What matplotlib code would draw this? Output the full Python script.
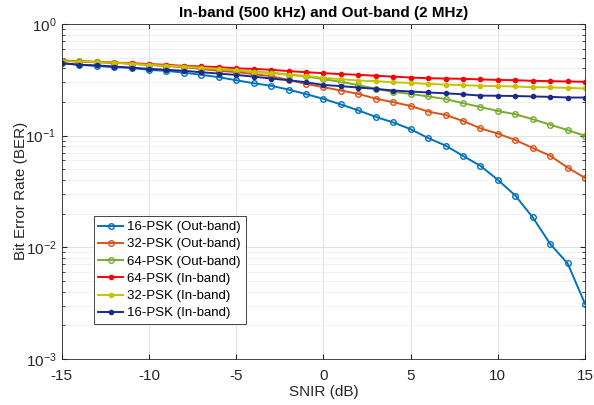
import numpy as np
import matplotlib
matplotlib.use('Agg')
from matplotlib import pyplot as plt
from matplotlib.ticker import LogLocator, NullFormatter

plt.rcParams['font.family'] = ['Liberation Sans', 'DejaVu Sans']
plt.rcParams['axes.unicode_minus'] = False

snir = np.arange(-15, 16)  # SNIR in dB, 31 points

# out-band curves (open circle markers)
ber_16psk_out = [0.445, 0.43, 0.42, 0.41, 0.404, 0.387, 0.38, 0.366, 0.35, 0.333, 0.313,
                 0.294, 0.279, 0.258, 0.235, 0.213, 0.190, 0.168, 0.147, 0.131, 0.114,
                 0.095, 0.0813, 0.0658, 0.0535, 0.0401, 0.029, 0.0185, 0.0107, 0.00715, 0.0031]
ber_32psk_out = [0.47, 0.46, 0.455, 0.45, 0.44, 0.43, 0.42, 0.41, 0.395, 0.38, 0.37,
                 0.355, 0.34, 0.315, 0.29, 0.271, 0.253, 0.236, 0.214, 0.199, 0.184,
                 0.164, 0.153, 0.135, 0.116, 0.104, 0.0912, 0.0773, 0.0659, 0.0516, 0.0417]
ber_64psk_out = [0.47, 0.462, 0.455, 0.45, 0.44, 0.43, 0.422, 0.413, 0.402, 0.392, 0.38,
                 0.372, 0.365, 0.352, 0.338, 0.32, 0.303, 0.283, 0.262, 0.246, 0.236,
                 0.224, 0.212, 0.195, 0.18, 0.166, 0.155, 0.14, 0.125, 0.112, 0.0993]
# in-band curves (dot markers)
ber_64psk_in = [0.47, 0.46, 0.457, 0.45, 0.445, 0.436, 0.43, 0.42, 0.416, 0.41, 0.40,
                0.395, 0.388, 0.378, 0.369, 0.362, 0.355, 0.35, 0.343, 0.337, 0.331,
                0.326, 0.324, 0.322, 0.318, 0.315, 0.313, 0.309, 0.307, 0.305, 0.303]
ber_32psk_in = [0.465, 0.46, 0.455, 0.45, 0.44, 0.43, 0.423, 0.415, 0.405, 0.395, 0.385,
                0.372, 0.362, 0.35, 0.342, 0.329, 0.32, 0.311, 0.307, 0.30, 0.296,
                0.29, 0.286, 0.283, 0.279, 0.277, 0.275, 0.271, 0.27, 0.267, 0.264]
ber_16psk_in = [0.445, 0.43, 0.425, 0.415, 0.405, 0.396, 0.388, 0.38, 0.369, 0.359, 0.349,
                0.337, 0.324, 0.313, 0.30, 0.284, 0.277, 0.269, 0.262, 0.253, 0.248,
                0.243, 0.239, 0.234, 0.228, 0.227, 0.226, 0.224, 0.222, 0.219, 0.219]

fig = plt.figure(figsize=(5.94, 4.05), dpi=100)
ax = fig.add_axes([0.104, 0.114, 0.881, 0.827])

ax.semilogy(snir, ber_16psk_out, '-o', color='#0072BD', mfc='none', ms=4, mew=1.0, lw=1.4,
            label='16-PSK (Out-band)')
ax.semilogy(snir, ber_32psk_out, '-o', color='#D95319', mfc='none', ms=4, mew=1.0, lw=1.4,
            label='32-PSK (Out-band)')
ax.semilogy(snir, ber_64psk_out, '-o', color='#77AC30', mfc='none', ms=4, mew=1.0, lw=1.4,
            label='64-PSK (Out-band)')
ax.semilogy(snir, ber_64psk_in, '-o', color='#FF0000', ms=3, lw=1.4, label='64-PSK (In-band)')
ax.semilogy(snir, ber_32psk_in, '-o', color='#C4C400', ms=3, lw=1.4, label='32-PSK (In-band)')
ax.semilogy(snir, ber_16psk_in, '-o', color='#1C2A90', ms=3, lw=1.4, label='16-PSK (In-band)')

ax.set_xlim(-15, 15)
ax.set_ylim(1e-3, 1)
ax.set_xticks(range(-15, 16, 5))
ax.yaxis.set_major_locator(LogLocator(base=10, numticks=10))
ax.yaxis.set_minor_locator(LogLocator(base=10, subs=np.arange(2, 10), numticks=20))
ax.yaxis.set_minor_formatter(NullFormatter())

ax.grid(True, which='major', color='#e2e2e2', lw=0.7)
ax.grid(True, which='minor', axis='y', color='#efefef', lw=0.6)
ax.set_axisbelow(True)
ax.tick_params(which='both', direction='in', colors='#262626', labelsize=11, top=True, right=True)
ax.tick_params(axis='x', pad=7)
ax.tick_params(axis='y', pad=4)
ax.tick_params(which='minor', length=2)
for sp in ax.spines.values():
    sp.set_color('#262626')
    sp.set_linewidth(0.6)

ax.set_xlabel('SNIR (dB)', fontsize=11, color='#262626', labelpad=2)
ax.set_ylabel('Bit Error Rate (BER)', fontsize=11, color='#262626', labelpad=-2)
ax.set_title('In-band (500 kHz) and Out-band (2 MHz)', fontsize=11, fontweight='bold', pad=5)

leg = ax.legend(loc='lower left', bbox_to_anchor=(0.061, 0.104), fontsize=9.5, fancybox=False,
                edgecolor='#262626', framealpha=1, handlelength=1.9, handletextpad=0.3,
                borderpad=0.35, labelspacing=0.38, borderaxespad=0)
leg.get_frame().set_linewidth(0.6)

fig.savefig('out.png', dpi=100)
plt.close()
